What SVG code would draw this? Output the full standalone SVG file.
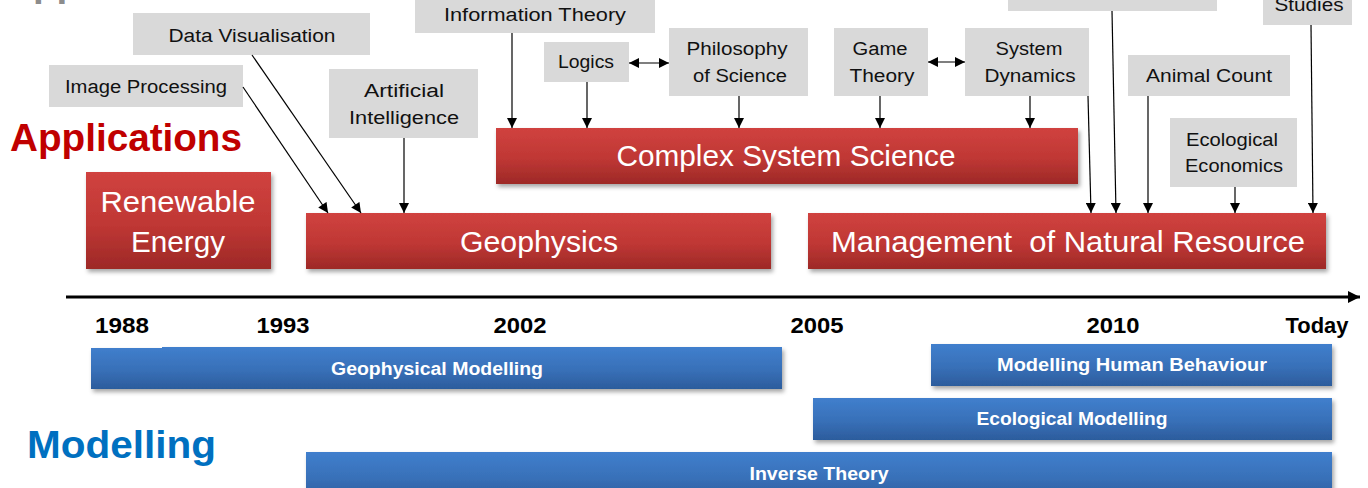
<svg xmlns="http://www.w3.org/2000/svg" width="1368" height="488" viewBox="0 0 1368 488">
  <defs>
    <linearGradient id="redFill" x1="0" y1="0" x2="0" y2="1">
      <stop offset="0" stop-color="#d0423f"/>
      <stop offset="0.55" stop-color="#bf3734"/>
      <stop offset="1" stop-color="#9d2927"/>
    </linearGradient>
    <linearGradient id="blueFill" x1="0" y1="0" x2="0" y2="1">
      <stop offset="0" stop-color="#407fcd"/>
      <stop offset="0.55" stop-color="#3870b8"/>
      <stop offset="1" stop-color="#2c5c9c"/>
    </linearGradient>
    <filter id="shadow" x="-5%" y="-20%" width="110%" height="150%">
      <feDropShadow dx="2" dy="3" stdDeviation="2" flood-color="#000" flood-opacity="0.35"/>
    </filter>
    <marker id="arrow" viewBox="0 0 10 10" refX="10" refY="5" markerWidth="11" markerHeight="10" markerUnits="userSpaceOnUse" orient="auto-start-reverse">
      <path d="M0,0 L10,5 L0,10 z" fill="#000"/>
    </marker>
    <marker id="axisArrow" viewBox="0 0 10 10" refX="10" refY="5" markerWidth="13" markerHeight="12" markerUnits="userSpaceOnUse" orient="auto">
      <path d="M0,0 L10,5 L0,10 z" fill="#000"/>
    </marker>
  </defs>
  <style>
    .grey rect { fill: #d9d9d9; }
    .grey text { font-family: "Liberation Sans", Arial, sans-serif; font-size: 18px; fill: #111; text-anchor: middle; }
    .red rect { fill: url(#redFill); filter: url(#shadow); }
    .red text { font-family: "Liberation Sans", Arial, sans-serif; font-size: 29px; fill: #fff; text-anchor: middle; }
    .blue rect { fill: url(#blueFill); filter: url(#shadow); }
    .blue text { font-family: "Liberation Sans", Arial, sans-serif; font-size: 18px; font-weight: bold; fill: #fff; text-anchor: middle; }
    .year { font-family: "Liberation Sans", Arial, sans-serif; font-size: 22px; font-weight: bold; fill: #000; text-anchor: middle; }
    .title { font-family: "Liberation Sans", Arial, sans-serif; font-size: 38px; font-weight: bold; }
    .conn line { stroke: #000; stroke-width: 1.2; marker-end: url(#arrow); }
  </style>

  <rect width="1368" height="488" fill="#fff"/>

  <!-- section headings -->
  <text class="title" x="5" y="-4" fill="#8c8c8c" textLength="232" lengthAdjust="spacingAndGlyphs">Applications</text>
  <text class="title" x="10" y="151" fill="#c00000" textLength="232" lengthAdjust="spacingAndGlyphs">Applications</text>
  <text class="title" x="27" y="458" fill="#0070c0" textLength="189" lengthAdjust="spacingAndGlyphs">Modelling</text>

  <!-- influence boxes -->
  <g id="info-theory" class="grey"><rect x="415" y="-10" width="240" height="43"/><text x="535" y="21" textLength="182" lengthAdjust="spacingAndGlyphs">Information Theory</text></g>
  <g id="data-vis" class="grey"><rect x="133" y="13" width="237" height="42"/><text x="252" y="42" textLength="167" lengthAdjust="spacingAndGlyphs">Data Visualisation</text></g>
  <g id="image-proc" class="grey"><rect x="49" y="65" width="194" height="42"/><text x="146" y="93" textLength="162" lengthAdjust="spacingAndGlyphs">Image Processing</text></g>
  <g id="ai" class="grey"><rect x="329" y="69" width="149" height="69"/><text x="404" y="97" textLength="80" lengthAdjust="spacingAndGlyphs">Artificial</text><text x="404" y="124" textLength="110" lengthAdjust="spacingAndGlyphs">Intelligence</text></g>
  <g id="logics" class="grey"><rect x="544" y="42" width="85" height="40"/><text x="586" y="68" textLength="56" lengthAdjust="spacingAndGlyphs">Logics</text></g>
  <g id="philosophy" class="grey"><rect x="669" y="28" width="139" height="68"/><text x="737" y="55" textLength="101" lengthAdjust="spacingAndGlyphs">Philosophy</text><text x="740" y="82" textLength="94" lengthAdjust="spacingAndGlyphs">of Science</text></g>
  <g id="game-theory" class="grey"><rect x="834" y="28" width="94" height="68"/><text x="880" y="55" textLength="55" lengthAdjust="spacingAndGlyphs">Game</text><text x="882" y="82" textLength="65" lengthAdjust="spacingAndGlyphs">Theory</text></g>
  <g id="system-dynamics" class="grey"><rect x="965" y="28" width="124" height="68"/><text x="1029" y="55" textLength="67" lengthAdjust="spacingAndGlyphs">System</text><text x="1030" y="82" textLength="91" lengthAdjust="spacingAndGlyphs">Dynamics</text></g>
  <g id="top-source" class="grey"><rect x="1008" y="-30" width="209" height="41"/></g>
  <g id="animal-count" class="grey"><rect x="1128" y="55" width="162" height="41"/><text x="1209" y="82" textLength="126" lengthAdjust="spacingAndGlyphs">Animal Count</text></g>
  <g id="studies" class="grey"><rect x="1263" y="-30" width="89" height="55"/><text x="1309" y="11" textLength="69" lengthAdjust="spacingAndGlyphs">Studies</text></g>
  <g id="eco-economics" class="grey"><rect x="1170" y="118" width="127" height="69"/><text x="1232" y="146" textLength="92" lengthAdjust="spacingAndGlyphs">Ecological</text><text x="1234" y="172" textLength="98" lengthAdjust="spacingAndGlyphs">Economics</text></g>

  <!-- application areas -->
  <g id="renewable" class="red"><rect x="86" y="172" width="185" height="97"/><text x="178" y="212" textLength="155" lengthAdjust="spacingAndGlyphs">Renewable</text><text x="178" y="252" textLength="94" lengthAdjust="spacingAndGlyphs">Energy</text></g>
  <g id="geophysics" class="red"><rect x="306" y="213" width="465" height="56"/><text x="539" y="252" textLength="158" lengthAdjust="spacingAndGlyphs">Geophysics</text></g>
  <g id="complex-systems" class="red"><rect x="496" y="128" width="582" height="56"/><text x="786" y="166" textLength="339" lengthAdjust="spacingAndGlyphs">Complex System Science</text></g>
  <g id="natural-resource" class="red"><rect x="808" y="213" width="518" height="56"/><text x="1068" y="252" textLength="474" lengthAdjust="spacingAndGlyphs" xml:space="preserve">Management  of Natural Resource</text></g>

  <!-- time axis -->
  <g id="axis">
    <line x1="66" y1="297" x2="1360" y2="297" stroke="#000" stroke-width="3" marker-end="url(#axisArrow)"/>
    <text class="year" x="122" y="333" textLength="54" lengthAdjust="spacingAndGlyphs">1988</text>
    <text class="year" x="283" y="333" textLength="53" lengthAdjust="spacingAndGlyphs">1993</text>
    <text class="year" x="520" y="333" textLength="53" lengthAdjust="spacingAndGlyphs">2002</text>
    <text class="year" x="817" y="333" textLength="53" lengthAdjust="spacingAndGlyphs">2005</text>
    <text class="year" x="1113" y="333" textLength="53" lengthAdjust="spacingAndGlyphs">2010</text>
    <text class="year" x="1317" y="333" textLength="63" lengthAdjust="spacingAndGlyphs">Today</text>
  </g>

  <!-- modelling bands -->
  <g id="geo-modelling" class="blue"><path d="M91,348 L162,348 L162,347 L782,347 L782,389 L91,389 z" fill="url(#blueFill)" filter="url(#shadow)"/><text x="437" y="375" textLength="212" lengthAdjust="spacingAndGlyphs">Geophysical Modelling</text></g>
  <g id="human-behaviour" class="blue"><rect x="931" y="344" width="401" height="42"/><text x="1132" y="371" textLength="270" lengthAdjust="spacingAndGlyphs">Modelling Human Behaviour</text></g>
  <g id="eco-modelling" class="blue"><rect x="813" y="398" width="519" height="42"/><text x="1072" y="425" textLength="191" lengthAdjust="spacingAndGlyphs">Ecological Modelling</text></g>
  <g id="inverse-theory" class="blue"><rect x="306" y="452" width="1026" height="48"/><text x="819" y="480" textLength="139" lengthAdjust="spacingAndGlyphs">Inverse Theory</text></g>

  <!-- connectors -->
  <g id="connectors" class="conn">
    <line x1="243" y1="87" x2="328" y2="213"/>
    <line x1="252" y1="55" x2="361" y2="213"/>
    <line x1="404" y1="138" x2="404" y2="213"/>
    <line x1="512" y1="33" x2="512" y2="128"/>
    <line x1="587" y1="82" x2="587" y2="128"/>
    <line x1="739" y1="96" x2="739" y2="128"/>
    <line x1="880" y1="96" x2="880" y2="128"/>
    <line x1="1030" y1="96" x2="1030" y2="128"/>
    <line x1="629" y1="63" x2="669" y2="63" marker-start="url(#arrow)"/>
    <line x1="928" y1="62" x2="965" y2="62" marker-start="url(#arrow)"/>
    <line x1="1088" y1="96" x2="1091" y2="213"/>
    <line x1="1112" y1="11" x2="1116" y2="213"/>
    <line x1="1148" y1="96" x2="1148" y2="213"/>
    <line x1="1235" y1="187" x2="1235" y2="213"/>
    <line x1="1311" y1="25" x2="1313" y2="213"/>
  </g>
</svg>
